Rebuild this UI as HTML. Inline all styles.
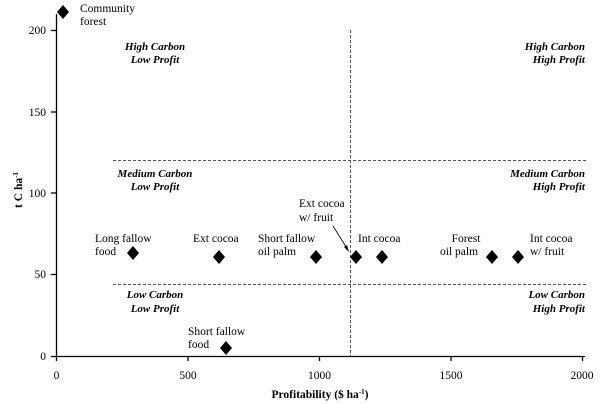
<!DOCTYPE html>
<html><head><meta charset="utf-8"><style>
html,body{margin:0;padding:0;background:#fff;}
svg{display:block;}
text{font-family:"Liberation Serif",serif;fill:#000;}
.q{font-weight:bold;font-style:italic;font-size:11px;}
.p{font-size:11.5px;}
</style></head><body>
<svg width="600" height="404" viewBox="0 0 600 404" xmlns="http://www.w3.org/2000/svg">
<g stroke="#000" stroke-width="1.3" fill="none">
<line x1="56.5" y1="14" x2="56.5" y2="356"/>
<line x1="56" y1="356.5" x2="585" y2="356.5"/>
<line x1="51" y1="30.5" x2="56" y2="30.5"/>
<line x1="51" y1="112" x2="56" y2="112"/>
<line x1="51" y1="193" x2="56" y2="193"/>
<line x1="51" y1="274.5" x2="56" y2="274.5"/>
<line x1="51" y1="356.5" x2="56" y2="356.5"/>
<line x1="56.5" y1="356" x2="56.5" y2="361"/>
<line x1="188" y1="356" x2="188" y2="361"/>
<line x1="319.5" y1="356" x2="319.5" y2="361"/>
<line x1="451" y1="356" x2="451" y2="361"/>
<line x1="582.5" y1="356" x2="582.5" y2="361"/>
</g>
<g stroke="#555" stroke-width="1" stroke-dasharray="3,2" fill="none">
<line x1="113" y1="160.5" x2="586" y2="160.5"/>
<line x1="113" y1="284.5" x2="586" y2="284.5"/>
<line x1="350.5" y1="30" x2="350.5" y2="356"/>
</g>
<g font-size="11.5" text-anchor="end">
<text x="46" y="34">200</text><text x="46" y="116">150</text><text x="46" y="197">100</text><text x="46" y="278">50</text><text x="46" y="360">0</text>
</g>
<g font-size="11.5" text-anchor="middle">
<text x="56.5" y="379">0</text><text x="188" y="379">500</text><text x="319.5" y="379">1000</text><text x="451" y="379">1500</text><text x="582" y="379">2000</text>
</g>
<text x="320" y="398" text-anchor="middle" font-weight="bold" font-size="11.5">Profitability ($ ha<tspan font-size="7" dy="-4">-1</tspan><tspan dy="4">)</tspan></text>
<text transform="translate(22,190) rotate(-90)" text-anchor="middle" font-weight="bold" font-size="11.5">t C ha<tspan font-size="7" dy="-4">-1</tspan></text>
<g class="q" text-anchor="middle">
<text x="155" y="50">High Carbon</text><text x="155" y="63">Low Profit</text>
<text x="155" y="177">Medium Carbon</text><text x="155" y="190">Low Profit</text>
<text x="155" y="298">Low Carbon</text><text x="155" y="312">Low Profit</text>
</g>
<g class="q" text-anchor="end">
<text x="585" y="50">High Carbon</text><text x="585" y="63">High Profit</text>
<text x="585" y="177">Medium Carbon</text><text x="585" y="190">High Profit</text>
<text x="585" y="298">Low Carbon</text><text x="585" y="312">High Profit</text>
</g>
<g fill="#000">
<polygon points="63,5 69,12 63,19 57,12"/>
<polygon points="133,246 139,253 133,260 127,253"/>
<polygon points="219,250 225,257 219,264 213,257"/>
<polygon points="316,250 322,257 316,264 310,257"/>
<polygon points="356,250 362,257 356,264 350,257"/>
<polygon points="382,250 388,257 382,264 376,257"/>
<polygon points="492,250 498,257 492,264 486,257"/>
<polygon points="518,250 524,257 518,264 512,257"/>
<polygon points="226,341 232,348 226,355 220,348"/>
</g>
<line x1="333" y1="226" x2="348" y2="250" stroke="#000" stroke-width="0.8"/>
<polygon points="349,252 344,247 347,245" fill="#000"/>
<g class="p">
<text x="80" y="12">Community</text><text x="80" y="25">forest</text>
<text x="95" y="242">Long fallow</text><text x="95" y="255">food</text>
<text x="193" y="242">Ext cocoa</text>
<text x="258" y="242">Short fallow</text><text x="258" y="255">oil palm</text>
<text x="299" y="207">Ext cocoa</text><text x="299" y="221">w/ fruit</text>
<text x="358" y="242">Int cocoa</text>
<text x="466" y="242" text-anchor="middle">Forest</text><text x="440" y="255">oil palm</text>
<text x="530" y="242">Int cocoa</text><text x="530" y="255">w/ fruit</text>
<text x="188" y="335">Short fallow</text><text x="188" y="348">food</text>
</g>
</svg>
</body></html>
